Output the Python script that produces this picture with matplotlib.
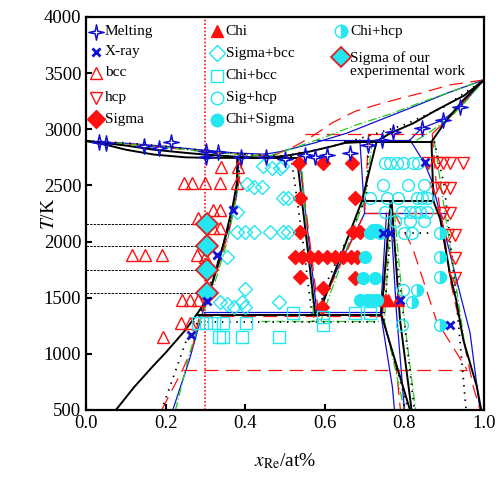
import matplotlib
matplotlib.use("Agg")
import matplotlib.pyplot as plt
from matplotlib.path import Path
import numpy as np

plt.rcParams['font.family'] = ['Liberation Serif', 'DejaVu Serif']
plt.rcParams['mathtext.fontset'] = 'stix'

# ---- experimental points (x_Re, T/K) ----
melt_x = [0.033, 0.050, 0.146, 0.183, 0.214, 0.302, 0.302, 0.332, 0.389, 0.452, 0.500,
          0.550, 0.575, 0.605, 0.663, 0.709, 0.743, 0.771, 0.844, 0.897, 0.940]
melt_T = [2887, 2878, 2851, 2833, 2887, 2807, 2753, 2798, 2753, 2753, 2736,
          2771, 2756, 2771, 2786, 2860, 2905, 2976, 3012, 3083, 3199]

xray_x = [0.369, 0.329, 0.264, 0.303, 0.852, 0.746, 0.764, 0.789, 0.915]
xray_T = [2281, 1881, 1168, 1470, 2709, 2077, 2077, 1480, 1257]

bcc_x = [0.339, 0.381, 0.245, 0.266, 0.299, 0.337, 0.379, 0.282, 0.320, 0.337, 0.299,
         0.320, 0.337, 0.115, 0.148, 0.190, 0.278, 0.299, 0.240, 0.261, 0.282, 0.239,
         0.260, 0.193]
bcc_T = [2667, 2667, 2519, 2519, 2519, 2519, 2519, 2207, 2281, 2281, 2190,
         2120, 2120, 1881, 1881, 1881, 1881, 1866, 1480, 1480, 1480, 1272,
         1272, 1153]

hcp_x = [0.860, 0.881, 0.898, 0.915, 0.948, 0.877, 0.898, 0.915, 0.898, 0.915, 0.910,
         0.927, 0.927, 0.927]
hcp_T = [2697, 2697, 2697, 2697, 2697, 2475, 2475, 2475, 2255, 2255, 2059,
         2059, 1851, 1673]

sigma_x = [0.534, 0.596, 0.668, 0.538, 0.676, 0.538, 0.672, 0.688, 0.525, 0.543, 0.563,
           0.583, 0.606, 0.626, 0.646, 0.666, 0.681, 0.538, 0.676, 0.596, 0.592]
sigma_T = [2697, 2697, 2697, 2386, 2386, 2088, 2088, 2088, 1866, 1866, 1866,
           1866, 1866, 1866, 1866, 1866, 1866, 1688, 1673, 1584, 1420]

chi_x = [0.751, 0.759, 0.785]
chi_T = [1480, 1480, 1480]

sig_bcc_x = [0.445, 0.467, 0.487, 0.405, 0.422, 0.442, 0.496, 0.508, 0.379, 0.379, 0.399,
             0.422, 0.462, 0.496, 0.508, 0.354, 0.399, 0.337, 0.354, 0.372, 0.392, 0.399,
             0.485, 0.492]
sig_bcc_T = [2673, 2655, 2655, 2513, 2486, 2486, 2390, 2390, 2264, 2085, 2085,
             2085, 2085, 2085, 2085, 1863, 1578, 1462, 1444, 1418, 1462, 1418,
             1462, 2670]

chi_bcc_x = [0.281, 0.302, 0.322, 0.343, 0.402, 0.335, 0.343, 0.392, 0.486, 0.519, 0.595,
             0.595, 0.676, 0.714]
chi_bcc_T = [1272, 1272, 1272, 1272, 1272, 1153, 1153, 1153, 1153, 1362, 1331,
             1257, 1362, 1362]

sig_hcp_x = [0.751, 0.764, 0.781, 0.797, 0.822, 0.835, 0.747, 0.810, 0.848, 0.714, 0.755,
             0.785, 0.831, 0.843, 0.856, 0.751, 0.793, 0.814, 0.827, 0.839, 0.856, 0.776,
             0.814, 0.848, 0.800, 0.818, 0.796, 0.793]
sig_hcp_T = [2697, 2697, 2697, 2697, 2697, 2697, 2504, 2504, 2504, 2386, 2386,
             2386, 2386, 2386, 2386, 2266, 2266, 2266, 2266, 2266, 2266, 2180,
             2180, 2180, 2074, 2074, 1569, 1257]

chi_sig_x = [0.713, 0.720, 0.730, 0.739, 0.701, 0.697, 0.726, 0.688, 0.705, 0.718, 0.730]
chi_sig_T = [2080, 2100, 2103, 2074, 1866, 1673, 1673, 1480, 1480, 1480, 1480]

chi_hcp_x = [0.889, 0.889, 0.889, 0.831, 0.818, 0.889]
chi_hcp_T = [2074, 1866, 1688, 1569, 1465, 1257]

ours_x = [0.303, 0.303, 0.303, 0.303]
ours_T = [2155, 1958, 1747, 1540]

# ---- calculated phase boundaries ----
blk_liq_left = ([0, 0.1, 0.17, 0.25, 0.3, 0.38, 0.45], [2896, 2855, 2818, 2790, 2774, 2755, 2747])
blk_sol_left = ([0, 0.05, 0.1, 0.17, 0.25, 0.3, 0.38], [2896, 2862, 2818, 2775, 2750, 2746, 2745])
blk_eutectic = ([0.38, 0.53], [2745, 2745])
blk_liq_right = ([0.45, 0.5, 0.56, 0.62, 0.65, 0.7, 0.73, 0.764, 0.822, 0.881, 0.95, 1.0],
                 [2747, 2762, 2800, 2850, 2878, 2887, 2892, 2964, 3053, 3172, 3300, 3440])
blk_peritectic = ([0.65, 0.868], [2888, 2888])
blk_hcp_sol = ([0.868, 0.906, 0.948, 1.0], [2888, 3083, 3261, 3440])
blk_bcc = ([0.38, 0.379, 0.37, 0.354, 0.337, 0.32, 0.303, 0.278],
           [2745, 2519, 2341, 2103, 1866, 1658, 1480, 1350])
blk_bcc_low = ([0.278, 0.25, 0.2, 0.167, 0.12, 0.075], [1350, 1213, 1010, 886, 700, 500])
blk_eutectoid = ([0.278, 0.742], [1350, 1350])
blk_sig_left = ([0.53, 0.576], [2745, 1350])
blk_sig_right = ([0.73, 0.693, 0.584], [2888, 2360, 1350])
blk_peritectoid = ([0.693, 0.873], [2360, 2360])
blk_chi_left = ([0.765, 0.742, 0.814], [2345, 1350, 500])
blk_chi_right = ([0.768, 0.789, 0.818], [2345, 1300, 500])
blk_hcp = ([0.868, 0.873, 0.89, 0.915, 0.93, 0.948, 0.982, 0.993],
           [2888, 2360, 2200, 1700, 1480, 1124, 708, 500])

blu_liq_left = ([0, 0.1, 0.2, 0.3, 0.38, 0.45], [2896, 2875, 2848, 2812, 2788, 2778])
blu_liq_right = ([0.45, 0.487, 0.571, 0.655, 0.739, 0.822, 0.906, 1.0],
                 [2778, 2800, 2875, 2965, 3083, 3199, 3320, 3440])
blu_hcp_sol = ([0.814, 0.843, 0.897, 0.94, 1.0], [2905, 3009, 3083, 3199, 3440])
blu_peritectic = ([0.58, 0.814], [2905, 2905])
blu_bcc = ([0.385, 0.378, 0.362, 0.335, 0.31, 0.293, 0.26, 0.218],
           [2778, 2400, 2150, 1870, 1550, 1370, 950, 500])
blu_eutectoid = ([0.293, 0.745], [1370, 1370])
blu_sig_left = ([0.535, 0.58], [2778, 1370])
blu_sig_right = ([0.688, 0.70, 0.592, 0.585], [2905, 2252, 1465, 1370])
blu_peritectoid = ([0.70, 0.906], [2252, 2252])
blu_chi_left = ([0.755, 0.74, 0.77, 0.775], [2252, 1370, 700, 500])
blu_chi_right = ([0.765, 0.78, 0.8], [2252, 1370, 500])
blu_hcp = ([0.814, 0.85, 0.868, 0.9, 0.931, 0.965, 0.99],
           [2905, 2700, 2548, 2100, 1658, 1186, 500])

red_liq_left = ([0, 0.1, 0.2, 0.3, 0.4, 0.47], [2896, 2870, 2838, 2800, 2772, 2765])
red_liq_right = ([0.47, 0.52, 0.567, 0.62, 0.676, 0.747, 0.839, 0.915, 1.0],
                 [2765, 2840, 2934, 3060, 3160, 3235, 3320, 3395, 3440])
red_peritectic = ([0.55, 0.87], [2960, 2960])
red_hcp_sol = ([0.87, 0.92, 0.96, 1.0], [2960, 3130, 3290, 3440])
red_bcc = ([0.395, 0.38, 0.36, 0.33, 0.30, 0.285, 0.268, 0.243, 0.19],
           [2770, 2450, 2100, 1750, 1450, 1337, 1064, 860, 500])
red_eutectoid = ([0.285, 0.745], [1337, 1337])
red_low = ([0.243, 0.957], [860, 860])
red_sig_left = ([0.535, 0.585], [2800, 1337])
red_sig_right = ([0.71, 0.70, 0.6, 0.59], [2960, 2250, 1500, 1337])
red_peritectoid = ([0.70, 0.9], [2250, 2250])
red_chi_left = ([0.762, 0.745, 0.78, 0.79], [2250, 1337, 860, 500])
red_chi_right = ([0.775, 0.82, 0.88, 0.957], [2250, 1950, 1300, 860])
red_hcp = ([0.87, 0.88, 0.902, 0.915, 0.952, 0.973, 0.99], [2960, 2500, 2015, 1658, 1064, 708, 500])

grn_liq_left = ([0, 0.1, 0.2, 0.3, 0.4, 0.46], [2896, 2868, 2838, 2800, 2770, 2762])
grn_liq_right = ([0.46, 0.52, 0.6, 0.68, 0.76, 0.85, 0.93, 1.0],
                 [2762, 2830, 2930, 3040, 3130, 3250, 3350, 3440])
grn_hcp_sol = ([0.83, 0.87, 0.92, 0.96, 1.0], [2900, 2990, 3120, 3270, 3440])
grn_bcc = ([0.39, 0.378, 0.355, 0.325, 0.298, 0.285, 0.26, 0.225],
           [2762, 2400, 2000, 1650, 1400, 1290, 1000, 500])
grn_eutectoid = ([0.44, 0.735], [1290, 1290])
grn_sig_left = ([0.54, 0.573], [2762, 1290])
grn_sig_right = ([0.72, 0.70, 0.6, 0.59], [2900, 2380, 1400, 1290])
grn_chi_left = ([0.765, 0.75, 0.8], [2250, 1290, 500])
grn_chi_right = ([0.775, 0.8, 0.828], [2250, 1290, 500])
grn_hcp = ([0.875, 0.9, 0.93, 0.955], [2900, 2300, 1600, 1000])

dot_liq_left = ([0, 0.1, 0.2, 0.3, 0.42, 0.5], [2896, 2878, 2848, 2808, 2772, 2762])
dot_liq_right = ([0.5, 0.6, 0.7, 0.8, 0.9, 1.0], [2762, 2830, 2930, 3040, 3200, 3440])
dot_bcc = ([0.39, 0.38, 0.36, 0.33, 0.3, 0.28, 0.25, 0.19],
           [2762, 2500, 2150, 1800, 1500, 1280, 1100, 500])
dot_eutectoid = ([0.27, 0.735], [1280, 1280])
dot_sig_left = ([0.515, 0.545, 0.57], [2762, 2000, 1280])
dot_sig_right = ([0.71, 0.705, 0.6, 0.58], [2890, 2400, 1600, 1280])
dot_peritectoid = ([0.71, 0.905], [2077, 2077])
dot_chi_left = ([0.765, 0.748, 0.81], [2077, 1280, 500])
dot_chi_right = ([0.772, 0.8, 0.825], [2077, 1280, 500])
dot_hcp = ([0.875, 0.9, 0.93, 0.955], [2890, 2500, 1500, 500])

x_alloy = 0.30

CYAN = '#22e6f0'
RED = '#ff1010'
BLUE = '#1010d8'

# four-pointed star with concave sides for the melting points
star = Path([(0, 1), (0.17, 0.17), (1, 0), (0.17, -0.17), (0, -1), (-0.17, -0.17),
             (-1, 0), (-0.17, 0.17), (0, 1)],
            [Path.MOVETO] + [Path.LINETO] * 7 + [Path.CLOSEPOLY])

fig = plt.figure(figsize=(5.01, 4.78), dpi=100)
ax = fig.add_axes([0.1717, 0.1423, 0.7944, 0.8222])

for seg in [blk_liq_left, blk_sol_left, blk_eutectic, blk_liq_right, blk_peritectic, blk_hcp_sol,
            blk_bcc, blk_bcc_low, blk_eutectoid, blk_sig_left, blk_sig_right, blk_peritectoid,
            blk_chi_left, blk_chi_right, blk_hcp]:
    ax.plot(*seg, color='black', lw=1.4, zorder=3)
for seg in [blu_liq_left, blu_liq_right, blu_hcp_sol, blu_peritectic, blu_bcc, blu_eutectoid,
            blu_sig_left, blu_sig_right, blu_peritectoid, blu_chi_left, blu_chi_right, blu_hcp]:
    ax.plot(*seg, color=BLUE, lw=0.9, zorder=2)
for seg in [red_liq_left, red_liq_right, red_peritectic, red_hcp_sol, red_bcc, red_eutectoid,
            red_low, red_sig_left, red_sig_right, red_peritectoid, red_chi_left, red_chi_right,
            red_hcp]:
    ax.plot(*seg, color=RED, lw=0.9, dashes=(11, 6), zorder=2)
for seg in [grn_liq_left, grn_liq_right, grn_hcp_sol, grn_bcc, grn_eutectoid, grn_sig_left,
            grn_sig_right, grn_chi_left, grn_chi_right, grn_hcp]:
    ax.plot(*seg, color='#22cc22', lw=0.9, dashes=(7, 2, 1, 2), zorder=2)
for seg in [dot_liq_left, dot_liq_right, dot_bcc, dot_eutectoid, dot_sig_left, dot_sig_right,
            dot_peritectoid, dot_chi_left, dot_chi_right, dot_hcp]:
    ax.plot(*seg, color='black', lw=1.3, dashes=(0.8, 3.2), zorder=2)

# alloy composition and guide lines to our sigma points
ax.axvline(x_alloy, color=RED, lw=1.2, ls=(0, (1, 1.2)), zorder=2)
for t in ours_T:
    ax.plot([0, ours_x[0]], [t, t], color='black', lw=0.7, ls=(0, (2.5, 1.2)), zorder=2)

ax.plot(melt_x, melt_T, ls='none', marker=star, ms=11, mfc='none', mec=BLUE, mew=1.1, zorder=5)
ax.plot(bcc_x, bcc_T, ls='none', marker='^', ms=9, mfc='none', mec=RED, mew=1.0, zorder=4)
ax.plot(hcp_x, hcp_T, ls='none', marker='v', ms=9, mfc='none', mec=RED, mew=1.0, zorder=4)
ax.plot(sigma_x, sigma_T, ls='none', marker='D', ms=7.5, mfc=RED, mec=RED, zorder=4)
ax.plot(chi_x, chi_T, ls='none', marker='^', ms=8, mfc=RED, mec=RED, zorder=4)
ax.plot(sig_bcc_x, sig_bcc_T, ls='none', marker='D', ms=7, mfc='none', mec=CYAN, mew=1.0, zorder=4)
ax.plot(chi_bcc_x, chi_bcc_T, ls='none', marker='s', ms=8, mfc='none', mec=CYAN, mew=1.0, zorder=4)
ax.plot(sig_hcp_x, sig_hcp_T, ls='none', marker='o', ms=8.5, mfc='none', mec=CYAN, mew=1.0, zorder=4)
ax.plot(chi_sig_x, chi_sig_T, ls='none', marker='o', ms=8.5, mfc=CYAN, mec=CYAN, zorder=4)
ax.plot(chi_hcp_x, chi_hcp_T, ls='none', marker='o', ms=8.5, fillstyle='right', mfc=CYAN,
        mfcalt='white', mec=CYAN, mew=1.0, zorder=4)
ax.plot(ours_x, ours_T, ls='none', marker='D', ms=11, mfc=CYAN, mec='#e02020', mew=1.3, zorder=6)
ax.plot(xray_x, xray_T, ls='none', marker='x', ms=6, mec=BLUE, mew=2.0, zorder=6)

# legend drawn inside the axes
leg = [
    (0.025, 0.962, dict(marker=star, ms=11, mfc='none', mec=BLUE, mew=1.1), 'Melting'),
    (0.025, 0.911, dict(marker='x', ms=6, mec=BLUE, mew=2.0), 'X-ray'),
    (0.025, 0.858, dict(marker='^', ms=9, mfc='none', mec=RED), 'bcc'),
    (0.025, 0.794, dict(marker='v', ms=9, mfc='none', mec=RED), 'hcp'),
    (0.025, 0.740, dict(marker='D', ms=9, mfc=RED, mec=RED), 'Sigma'),
    (0.329, 0.964, dict(marker='^', ms=8, mfc=RED, mec=RED), 'Chi'),
    (0.329, 0.908, dict(marker='D', ms=8, mfc='none', mec=CYAN), 'Sigma+bcc'),
    (0.329, 0.850, dict(marker='s', ms=9, mfc='none', mec=CYAN), 'Chi+bcc'),
    (0.329, 0.794, dict(marker='o', ms=9, mfc='none', mec=CYAN), 'Sig+hcp'),
    (0.329, 0.738, dict(marker='o', ms=9, mfc=CYAN, mec=CYAN), 'Chi+Sigma'),
    (0.641, 0.964, dict(marker='o', ms=9, fillstyle='right', mfc=CYAN, mfcalt='white', mec=CYAN),
     'Chi+hcp'),
]
for mx, my, style, label in leg:
    ax.plot([mx], [my], ls='none', transform=ax.transAxes, clip_on=False, zorder=7, **style)
    ax.text(mx + 0.022, my, label, transform=ax.transAxes, fontsize=11, va='center', ha='left')
ax.plot([0.641], [0.898], ls='none', marker='D', ms=10, mfc=CYAN, mec='#e02020', mew=1.3,
        transform=ax.transAxes, zorder=7)
ax.text(0.663, 0.879, 'Sigma of our\nexperimental work', transform=ax.transAxes, fontsize=11,
        va='center', ha='left', linespacing=1.0)

ax.set_xlim(0, 1)
ax.set_ylim(500, 4000)
ax.set_xticks(np.arange(0, 1.01, 0.2))
ax.set_xticklabels(['%.1f' % v for v in np.arange(0, 1.01, 0.2)])
ax.set_yticks(np.arange(500, 4001, 500))
ax.tick_params(direction='in', length=4, width=1.5, labelsize=13.5, top=False, right=False)
for s in ax.spines.values():
    s.set_linewidth(1.6)
ax.set_xlabel(r'$x_{\mathrm{Re}}$/at%', fontsize=14)
ax.set_ylabel(r'$T$/K', fontsize=14)
ax.xaxis.set_label_coords(0.5, -0.105)
ax.yaxis.set_label_coords(-0.07, 0.5)

fig.savefig('out.png', dpi=100)
